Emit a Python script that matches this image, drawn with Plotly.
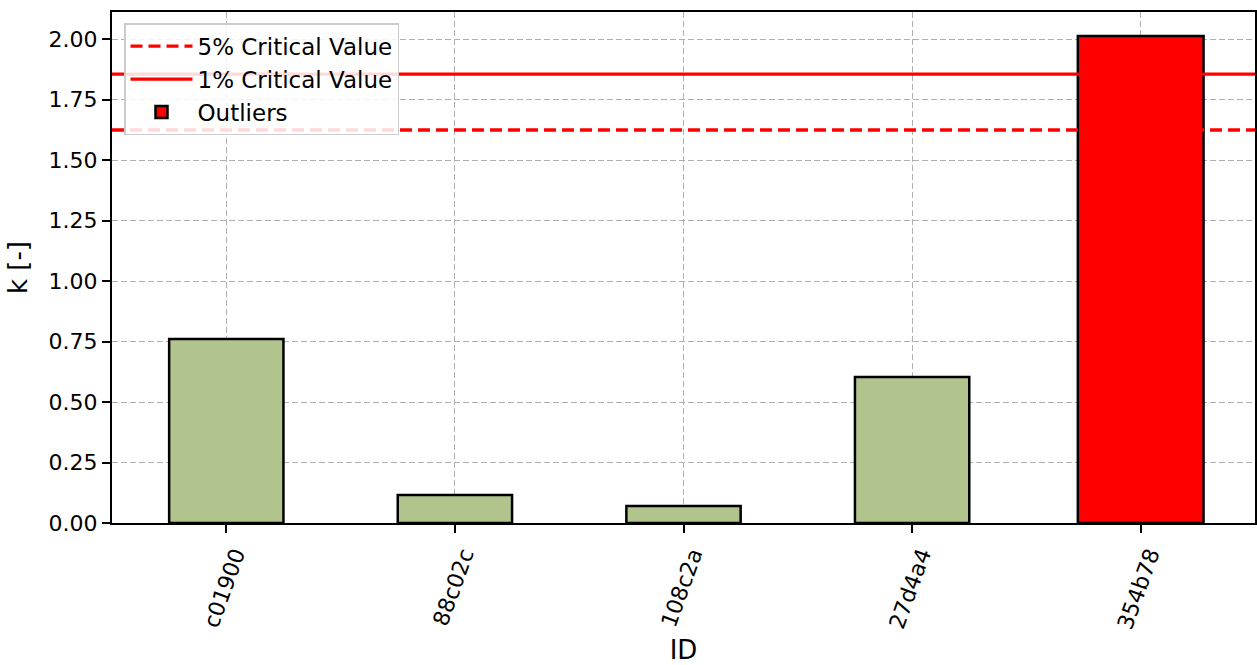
import plotly.graph_objects as go

ids = ["c01900", "88c02c", "108c2a", "27d4a4", "354b78"]
k_values = [0.760, 0.116, 0.070, 0.603, 2.012]
outlier_ids = ["354b78"]
outlier_values = [2.012]
crit_5 = 1.624
crit_1 = 1.855
yticks = [0.0, 0.25, 0.5, 0.75, 1.0, 1.25, 1.5, 1.75, 2.0]

normal_ids = [i for i in ids if i not in outlier_ids]
normal_vals = [v for i, v in zip(ids, k_values) if i not in outlier_ids]

fig = go.Figure()
fig.add_trace(go.Bar(x=normal_ids, y=normal_vals, width=0.5,
                     marker=dict(color="#b2c48e", line=dict(color="black", width=2.5)),
                     showlegend=False))
fig.add_trace(go.Scatter(x=[0, 1], y=[crit_5, crit_5], xaxis="x2", mode="lines",
                         line=dict(color="red", width=3.3, dash="12px,6px"),
                         name="5% Critical Value"))
fig.add_trace(go.Scatter(x=[0, 1], y=[crit_1, crit_1], xaxis="x2", mode="lines",
                         line=dict(color="red", width=3.3),
                         name="1% Critical Value"))
fig.add_trace(go.Bar(x=outlier_ids, y=outlier_values, width=0.55,
                     marker=dict(color="red", line=dict(color="black", width=2.5)),
                     name="Outliers"))

font = dict(family="DejaVu Sans", size=22, color="black")
fig.update_layout(
    width=1257, height=665,
    margin=dict(l=112, r=2, t=12, b=142, autoexpand=False),
    plot_bgcolor="white", paper_bgcolor="white",
    font=font,
    barmode="overlay",
    xaxis=dict(categoryorder="array", categoryarray=ids, range=[-0.5, 4.5],
               tickangle=-70, ticks="outside", ticklen=8, tickwidth=1.5, tickcolor="black",
               ticklabelshift=9,
               showline=True, linecolor="black", linewidth=2, mirror=True,
               showgrid=True, gridcolor="#b0b0b0", griddash="6px,3px", gridwidth=1,
               title=dict(text="ID", standoff=17), tickfont=font, automargin=False),
    xaxis2=dict(overlaying="x", range=[0, 1], visible=False),
    yaxis=dict(range=[0, 2.1116], tickvals=yticks, tickformat=".2f",
               ticks="outside", ticklen=8, tickwidth=1.5, tickcolor="black",
               showline=True, linecolor="black", linewidth=2, mirror=True,
               showgrid=True, gridcolor="#b0b0b0", griddash="6px,3px", gridwidth=1,
               zeroline=False, title=dict(text="k [-]", standoff=14), tickfont=font,
               automargin=False),
    legend=dict(x=0.0105, y=0.978, xanchor="left", yanchor="top",
                bgcolor="rgba(255,255,255,0.85)", bordercolor="#cccccc", borderwidth=1.5,
                font=dict(family="DejaVu Sans", size=23, color="black"), itemwidth=62),
)
fig.write_html("out.html", config={"displayModeBar": False},
               post_script="document.body.style.margin='0';document.body.style.overflow='hidden';")
